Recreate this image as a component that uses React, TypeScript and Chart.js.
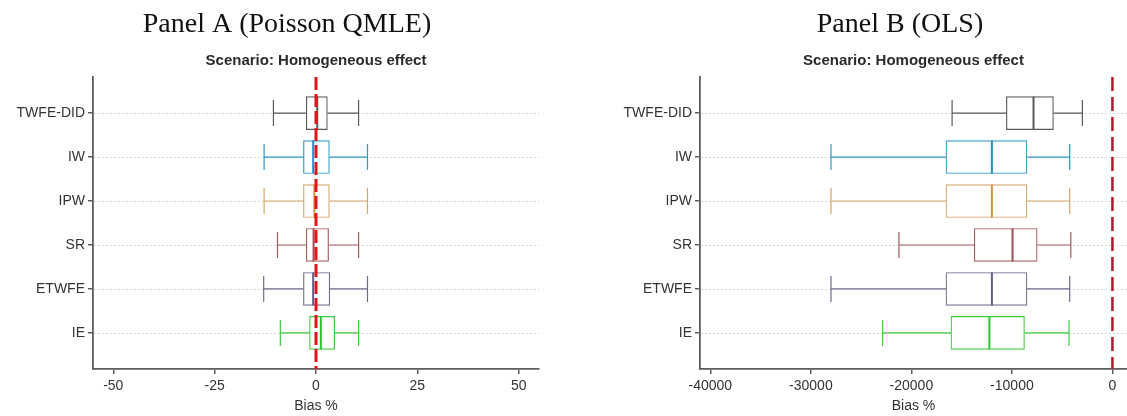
import React, { useEffect, useRef } from "react";
import { Chart, registerables } from "chart.js";

Chart.register(...registerables);

// Estimators, top to bottom
const methods = ["TWFE-DID", "IW", "IPW", "SR", "ETWFE", "IE"];
const lineColors = ["#5a5a5a", "#2a9bc4", "#d9a468", "#a35a5d", "#6c6c8e", "#3ccc3c"];
const medianColors = ["#5a5a5a", "#1f93c0", "#e0913a", "#a04e52", "#5f5f85", "#2ec42e"];

// Panel A: Poisson QMLE, bias in %
const poissonLowerWhisker = [-10.5, -12.8, -12.8, -9.5, -12.9, -8.8];
const poissonQ1 = [-2.4, -3.1, -3.1, -2.4, -3.1, -1.6];
const poissonMedian = [0.3, -0.7, -0.4, -0.6, -0.7, 1.2];
const poissonQ3 = [2.8, 3.3, 3.3, 3.1, 3.4, 4.6];
const poissonUpperWhisker = [10.5, 12.7, 12.7, 10.5, 12.7, 10.5];
const poissonTicks = [-50, -25, 0, 25, 50];

// Panel B: OLS, bias in %
const olsLowerWhisker = [-15950, -28000, -28000, -21240, -28000, -22860];
const olsQ1 = [-10550, -16560, -16560, -13750, -16560, -16060];
const olsMedian = [-7850, -11990, -11990, -9940, -11990, -12240];
const olsQ3 = [-5870, -8500, -8500, -7490, -8500, -8750];
const olsUpperWhisker = [-2990, -4250, -4250, -4140, -4250, -4320];
const olsTicks = [-40000, -30000, -20000, -10000, 0];

const scenarioTitle = "Scenario: Homogeneous effect";
const axisTitle = "Bias %";

type PanelConfig = {
  heading: string;
  headingX: number;
  lower: number[];
  q1: number[];
  median: number[];
  q3: number[];
  upper: number[];
  ticks: number[];
  xMin: number;
  xMax: number;
  canvasLeft: number;
  canvasWidth: number;
  yAxisWidth: number;
  rightPad: number;
  refColor: string;
  refWidth: number;
  refDash: number[];
};

const SANS = '"Liberation Sans", Arial, sans-serif';
const SERIF = '"Liberation Serif", "Times New Roman", serif';
const AXIS_COLOR = "#5c5c5c";
const BOX_HEIGHT = 33;
const CAP_HEIGHT = 26;

function makeBoxPlugin(cfg: PanelConfig) {
  return {
    id: "boxWhiskers",
    beforeDatasetsDraw(chart: any) {
      const { ctx, chartArea } = chart;
      const y = chart.scales.y;
      ctx.save();
      ctx.strokeStyle = "#cdcdcd";
      ctx.lineWidth = 1;
      ctx.setLineDash([1.5, 2.5]);
      methods.forEach((_, i) => {
        const py = Math.round(y.getPixelForValue(i)) + 0.5;
        ctx.beginPath();
        ctx.moveTo(chartArea.left + 1, py);
        ctx.lineTo(chartArea.right, py);
        ctx.stroke();
      });
      ctx.restore();
    },
    afterDatasetsDraw(chart: any) {
      const { ctx, chartArea } = chart;
      const x = chart.scales.x;
      const y = chart.scales.y;
      ctx.save();
      methods.forEach((_, i) => {
        const py = y.getPixelForValue(i);
        const xl = x.getPixelForValue(cfg.lower[i]);
        const x1 = x.getPixelForValue(cfg.q1[i]);
        const x3 = x.getPixelForValue(cfg.q3[i]);
        const xu = x.getPixelForValue(cfg.upper[i]);
        const xm = x.getPixelForValue(cfg.median[i]);
        ctx.strokeStyle = lineColors[i];
        ctx.lineWidth = 1.2;
        ctx.setLineDash([]);
        ctx.beginPath();
        ctx.moveTo(xl, py);
        ctx.lineTo(x1, py);
        ctx.moveTo(x3, py);
        ctx.lineTo(xu, py);
        ctx.moveTo(xl, py - CAP_HEIGHT / 2);
        ctx.lineTo(xl, py + CAP_HEIGHT / 2);
        ctx.moveTo(xu, py - CAP_HEIGHT / 2);
        ctx.lineTo(xu, py + CAP_HEIGHT / 2);
        ctx.stroke();
        ctx.strokeStyle = medianColors[i];
        ctx.lineWidth = 2;
        ctx.beginPath();
        ctx.moveTo(xm, py - BOX_HEIGHT / 2);
        ctx.lineTo(xm, py + BOX_HEIGHT / 2);
        ctx.stroke();
      });
      // zero-bias reference line
      const x0 = x.getPixelForValue(0);
      ctx.strokeStyle = cfg.refColor;
      ctx.lineWidth = cfg.refWidth;
      ctx.setLineDash(cfg.refDash);
      ctx.beginPath();
      ctx.moveTo(x0, chartArea.top);
      ctx.lineTo(x0, chartArea.bottom);
      ctx.stroke();
      ctx.restore();
    },
    afterDraw(chart: any) {
      const { ctx, chartArea } = chart;
      ctx.save();
      ctx.textAlign = "center";
      ctx.textBaseline = "middle";
      ctx.fillStyle = "#111111";
      ctx.font = `28px ${SERIF}`;
      ctx.fillText(cfg.heading, cfg.headingX, 25);
      ctx.fillStyle = "#2b2b2b";
      ctx.font = `bold 15px ${SANS}`;
      ctx.fillText(scenarioTitle, (chartArea.left + chartArea.right) / 2, 61);
      ctx.restore();
    },
  };
}

function BoxPanel({ cfg }: { cfg: PanelConfig }) {
  const ref = useRef<HTMLCanvasElement>(null);
  useEffect(() => {
    if (!ref.current) return;
    const chart = new Chart(ref.current, {
      type: "bar",
      data: {
        datasets: [
          {
            data: methods.map((_, i) => ({ y: i, x: [cfg.q1[i], cfg.q3[i]] })) as any,
            backgroundColor: "#ffffff",
            borderColor: lineColors,
            borderWidth: 1.2,
            borderSkipped: false,
            barThickness: BOX_HEIGHT,
          },
        ],
      },
      options: {
        indexAxis: "y",
        animation: false,
        responsive: false,
        events: [],
        layout: { padding: { left: 0, right: cfg.rightPad, top: 77, bottom: 0 } },
        plugins: {
          legend: { display: false },
          title: { display: false },
          tooltip: { enabled: false },
        },
        scales: {
          x: {
            type: "linear",
            offset: false,
            min: cfg.xMin,
            max: cfg.xMax,
            afterBuildTicks: (scale: any) => {
              scale.ticks = cfg.ticks.map((v) => ({ value: v }));
            },
            afterFit: (scale: any) => {
              scale.height = 47;
            },
            ticks: {
              color: "#333333",
              font: { family: SANS, size: 14 },
              padding: 4,
              maxRotation: 0,
              autoSkip: false,
              callback: (v: any) => String(v),
            },
            grid: {
              offset: false,
              drawOnChartArea: false,
              drawTicks: true,
              tickLength: 5,
              color: AXIS_COLOR,
              lineWidth: 1.5,
            },
            border: { color: AXIS_COLOR, width: 1.8 },
            title: {
              display: true,
              text: axisTitle,
              color: "#333333",
              font: { family: SANS, size: 14 },
              padding: { top: 0, bottom: 1 },
            },
          },
          y: {
            type: "linear",
            offset: false,
            reverse: true,
            min: -0.82,
            max: 5.82,
            afterBuildTicks: (scale: any) => {
              scale.ticks = methods.map((_, i) => ({ value: i }));
            },
            afterFit: (scale: any) => {
              scale.width = cfg.yAxisWidth;
            },
            ticks: {
              color: "#333333",
              font: { family: SANS, size: 14 },
              padding: 3,
              autoSkip: false,
              callback: (v: any) => methods[v as number] ?? "",
            },
            grid: {
              offset: false,
              drawOnChartArea: false,
              drawTicks: true,
              tickLength: 5,
              color: AXIS_COLOR,
              lineWidth: 1.5,
            },
            border: { color: AXIS_COLOR, width: 1.8 },
          },
        },
      } as any,
      plugins: [makeBoxPlugin(cfg)],
    });
    return () => chart.destroy();
  }, [cfg]);

  return (
    <canvas
      ref={ref}
      width={cfg.canvasWidth}
      height={416}
      style={{
        position: "absolute",
        left: cfg.canvasLeft,
        top: 0,
        width: cfg.canvasWidth,
        height: 416,
      }}
    />
  );
}

const poissonPanel: PanelConfig = {
  heading: "Panel A (Poisson QMLE)",
  headingX: 287,
  lower: poissonLowerWhisker,
  q1: poissonQ1,
  median: poissonMedian,
  q3: poissonQ3,
  upper: poissonUpperWhisker,
  ticks: poissonTicks,
  xMin: -55,
  xMax: 55,
  canvasLeft: 0,
  canvasWidth: 560,
  yAxisWidth: 93,
  rightPad: 21,
  refColor: "#e3141b",
  refWidth: 3,
  refDash: [13, 4],
};

const olsPanel: PanelConfig = {
  heading: "Panel B (OLS)",
  headingX: 340,
  lower: olsLowerWhisker,
  q1: olsQ1,
  median: olsMedian,
  q3: olsQ3,
  upper: olsUpperWhisker,
  ticks: olsTicks,
  xMin: -41030,
  xMax: 1450,
  canvasLeft: 560,
  canvasWidth: 567,
  yAxisWidth: 140,
  rightPad: 0,
  refColor: "#b2182b",
  refWidth: 2.5,
  refDash: [14, 6],
};

export default function App() {
  return (
    <div
      style={{
        position: "absolute",
        left: 0,
        top: 0,
        width: 1127,
        height: 416,
        background: "#ffffff",
        overflow: "hidden",
      }}
    >
      <BoxPanel cfg={poissonPanel} />
      <BoxPanel cfg={olsPanel} />
    </div>
  );
}
